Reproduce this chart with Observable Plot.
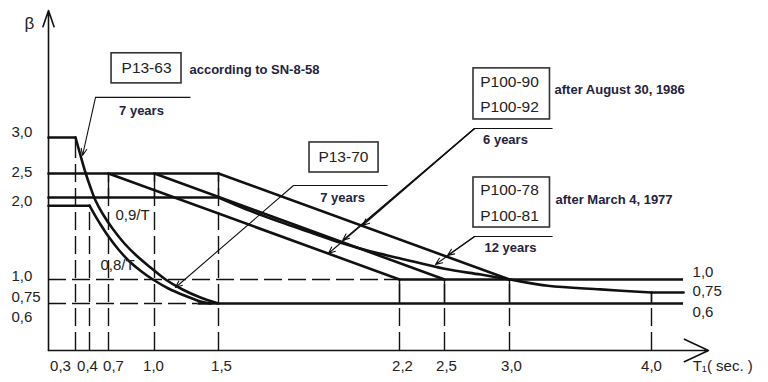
<!DOCTYPE html>
<html><head><meta charset="utf-8">
<script src="https://cdn.jsdelivr.net/npm/d3@7"></script>
<script src="https://cdn.jsdelivr.net/npm/@observablehq/plot@0.6"></script>
<style>body{margin:0;background:#fff}</style>
</head><body><div id="chart"></div>
<script>
// ---- tick values and labels ----
const xTicks = [0.3, 0.4, 0.7, 1.0, 1.5, 2.2, 2.5, 3.0, 4.0];
const xTickLabels = ["0,3", "0,4", "0,7", "1,0", "1,5", "2,2", "2,5", "3,0", "4,0"];
const yTicks = [3.0, 2.5, 2.0, 1.0, 0.75, 0.6];
const yTickLabels = ["3,0", "2,5", "2,0", "1,0", "0,75", "0,6"];
// value of beta at the top of each dashed guide
const guideTop = [3.0, 1.9, 2.5, 2.5, 2.5, 1.0, 1.0, 1.0, 0.75];

// ---- series ----
// P13-63 (0,9/T)
const p1363T = [0, 0.3, 0.336, 0.371, 0.416, 0.495, 0.605, 0.726, 0.804, 0.889, 0.974, 1.086, 1.219, 1.359, 1.5];
const p1363B = [3.0, 3.0, 2.75, 2.514, 2.208, 1.963, 1.805, 1.622, 1.439, 1.28, 1.146, 1.0, 0.808, 0.682, 0.6];
// P13-70 (0,8/T)
const p1370T = [0, 0.4, 0.479, 0.574, 0.7, 0.765, 0.837, 0.915, 1.0, 1.109, 1.234, 1.359, 1.438];
const p1370B = [1.9, 1.9, 1.793, 1.671, 1.524, 1.366, 1.22, 1.098, 0.981, 0.827, 0.709, 0.627, 0.6];
// P100-90/92: plateau 2.5 up to Tc, straight down to 1.0
const p10092Tc = [0.7, 1.0, 1.5];
const p10092Tend = [2.2, 2.5, 3.0];
const p10092Top = 2.5, p10092Floor = 1.0;
// P100-78/81
const p10081T = [0, 1.5, 1.62, 1.74, 1.86, 1.97, 2.09, 2.2, 2.5, 2.78, 3.0, 3.27, 3.64, 4.0, 4.225];
const p10081B = [2.0, 2.0, 1.84, 1.70, 1.57, 1.45, 1.34, 1.26, 1.13, 1.06, 1.0, 0.88, 0.81, 0.75, 0.75];
// right-hand levels
const endLevels = [1.0, 0.75, 0.6];
const endLabels = ["1,0", "0,75", "0,6"];
const lineEndT = 4.225;

// ---- annotations (data coordinates) ----
const boxes = [
  {x1: 0.72, x2: 1.211, y1: 3.75, y2: 4.167},
  {x1: 1.852, x2: 2.119, y1: 2.514, y2: 2.931},
  {x1: 2.723, x2: 3.285, y1: 3.25, y2: 3.958},
  {x1: 2.723, x2: 3.285, y1: 1.634, y2: 2.417}
];
const codeLabels = [
  {t: "P13-63", x: 0.948, y: 3.958},
  {t: "P13-70", x: 1.983, y: 2.722},
  {t: "P100-90", x: 3.0, y: 3.764},
  {t: "P100-92", x: 3.0, y: 3.417},
  {t: "P100-78", x: 3.0, y: 2.146},
  {t: "P100-81", x: 3.0, y: 1.78}
];
const notes = [
  {t: "according to SN-8-58", x: 1.273, y: 3.944},
  {t: "after August 30, 1986", x: 3.317, y: 3.667},
  {t: "after March 4, 1977", x: 3.324, y: 1.976}
];
const periods = [
  {t: "7 years", x: 0.915, y: 3.375},
  {t: "7 years", x: 1.98, y: 2.0},
  {t: "6 years", x: 2.969, y: 2.972},
  {t: "12 years", x: 3.007, y: 1.39}
];
const shelves = [
  {x1: 0.495, x2: 1.281, y: 3.556},
  {x1: 1.79, x2: 2.154, y: 2.25},
  {x1: 2.731, x2: 3.303, y: 3.125},
  {x1: 2.731, x2: 3.303, y: 1.524}
];
const pointers = [
  {x1: 0.495, y1: 3.556, x2: 0.35, y2: 2.75},
  {x1: 1.79, y1: 2.25, x2: 1.164, y2: 0.846},
  {x1: 2.731, y1: 3.125, x2: 2.057, y2: 1.659},
  {x1: 2.731, y1: 3.125, x2: 1.98, y2: 1.476},
  {x1: 2.731, y1: 3.125, x2: 1.925, y2: 1.317},
  {x1: 2.731, y1: 1.524, x2: 2.523, y2: 1.293},
  {x1: 2.731, y1: 1.524, x2: 2.44, y2: 1.183}
];
const curveLabels = [
  {t: "0,9/T", x: 0.857, y: 1.78},
  {t: "0,8/T", x: 0.759, y: 1.171}
];

// ---- build ----
const ink = "#111";
const thick = 2.6;
const dash = "18,6";
const pts = (T, B) => T.map((t, i) => ({t, b: B[i]}));
const p1363 = pts(p1363T, p1363B);
const p1370 = pts(p1370T, p1370B);
const p10081 = pts(p10081T, p10081B);
const p10092 = p10092Tc.flatMap((tc, i) => [
  {k: i, t: tc, b: p10092Top}, {k: i, t: p10092Tend[i], b: p10092Floor}
]);
const guides = xTicks.map((x, i) => ({x, top: guideTop[i]}));
const xNudge = [-15, -2, 5, -1, 3, 3, 2, 2, 0];
const yNudge = [-5, -1, 4, -3, 5, 14];
const endNudge = [-7, -1, 9];
const lin = {x: "t", y: "b", stroke: ink, strokeWidth: thick};
const smooth = {...lin, curve: "catmull-rom"};

const marks = [
  // dashed guides
  Plot.ruleX(guides, {x: "x", y1: 0, y2: "top", stroke: ink, strokeWidth: 1.4, strokeDasharray: dash}),
  Plot.ruleY([p10092Floor], {x1: 0, x2: p10092Tend[0], stroke: ink, strokeWidth: 1.4, strokeDasharray: dash}),
  Plot.ruleY([0.6], {x1: 0, x2: 1.34, stroke: ink, strokeWidth: 1.4, strokeDasharray: dash}),
  // solid short guide pieces
  Plot.ruleX(p10092Tc, {y1: 2.0, y2: p10092Top, stroke: ink, strokeWidth: 1.4}),
  Plot.ruleX(p10092Tend, {y1: 0.6, y2: p10092Floor, stroke: ink, strokeWidth: 1.4}),
  Plot.ruleX([4.0], {y1: 0.6, y2: 0.75, stroke: ink, strokeWidth: 1.4}),
  // right-hand levels
  Plot.ruleY([1.0], {x1: p10092Tend[0], x2: lineEndT, stroke: ink, strokeWidth: thick}),
  Plot.ruleY([0.6], {x1: 1.34, x2: lineEndT, stroke: ink, strokeWidth: thick}),
  // P100-92
  Plot.line([{t: 0, b: p10092Top}, {t: p10092Tc[2], b: p10092Top}], lin),
  Plot.line(p10092, {...lin, z: "k"}),
  // P100-81: plateau, curve, tail
  Plot.line(p10081.slice(0, 2), lin),
  Plot.line(p10081.slice(1, -1), smooth),
  Plot.line(p10081.slice(-2), lin),
  // P13-63 and P13-70: plateau then hyperbola
  Plot.line(p1363.slice(0, 2), lin),
  Plot.line(p1363.slice(1), smooth),
  Plot.line(p1370.slice(0, 2), lin),
  Plot.line(p1370.slice(1), smooth),
  // axes
  Plot.arrow([0], {x1: 0, y1: 0, x2: 0, y2: 4.76, stroke: ink, strokeWidth: 1.6, headLength: 16, headAngle: 38}),
  Plot.arrow([0], {x1: 0, y1: 0, x2: 4.4, y2: 0, stroke: ink, strokeWidth: 1.6, headLength: 25, headAngle: 50}),
  // annotation leaders
  Plot.link(shelves, {x1: "x1", x2: "x2", y1: "y", y2: "y", stroke: ink, strokeWidth: 1.1}),
  Plot.arrow(pointers, {x1: "x1", y1: "y1", x2: "x2", y2: "y2", stroke: ink, strokeWidth: 1.1, headLength: 10, headAngle: 45}),
  // boxes
  Plot.rect(boxes, {x1: "x1", x2: "x2", y1: "y1", y2: "y2", fill: "white", stroke: "#333", strokeWidth: 1.6}),
  Plot.text(codeLabels, {x: "x", y: "y", text: "t", fontSize: 15.5, fill: "#222", textAnchor: "middle"}),
  Plot.text(notes, {x: "x", y: "y", text: "t", fontSize: 13, fontWeight: "bold", fill: "#24233d", textAnchor: "start"}),
  Plot.text(periods, {x: "x", y: "y", text: "t", fontSize: 13, fontWeight: "bold", fill: "#24233d", textAnchor: "middle"}),
  Plot.text(curveLabels, {x: "x", y: "y", text: "t", fontSize: 15, fill: "#222", textAnchor: "middle"}),
  // tick labels
  ...xTicks.map((v, i) => Plot.text([v], {x: d => d, text: () => xTickLabels[i], frameAnchor: "bottom", dy: -12, dx: xNudge[i], fontSize: 15, fill: "#222", textAnchor: "middle"})),
  ...yTicks.map((v, i) => Plot.text([v], {y: d => d, text: () => yTickLabels[i], frameAnchor: "left", dx: 11, dy: yNudge[i], fontSize: 15, fill: "#222", textAnchor: "start"})),
  ...endLevels.map((v, i) => Plot.text([v], {x: lineEndT, y: d => d, text: () => endLabels[i], dx: 9, dy: endNudge[i], fontSize: 15, fill: "#222", textAnchor: "start"})),
  Plot.text(["T₁( sec. )"], {x: 4.289, frameAnchor: "bottom", dy: -12, text: d => d, fontSize: 15, fill: "#222", textAnchor: "start"}),
  Plot.text(["β"], {frameAnchor: "top-left", dx: 29, dy: 16, text: d => d, fontSize: 17, fill: "#222", textAnchor: "middle"})
];

const chart = Plot.plot({
  width: 768, height: 382,
  marginTop: 0, marginRight: 0, marginBottom: 0, marginLeft: 0,
  style: {fontFamily: "'Liberation Sans', Arial, sans-serif", background: "white"},
  x: {type: "linear", axis: null, domain: [0, ...xTicks, 4.4], range: [48, 75, 89, 108, 154, 218, 399, 444, 509, 651, 708]},
  y: {type: "linear", axis: null, domain: [0, 0.6, 0.75, 1.0, 2.0, 2.5, 3.0, 4.76], range: [350, 303, 292, 279, 197, 173, 137, 10]},
  marks
});
document.getElementById("chart").appendChild(chart);
</script></body></html>
